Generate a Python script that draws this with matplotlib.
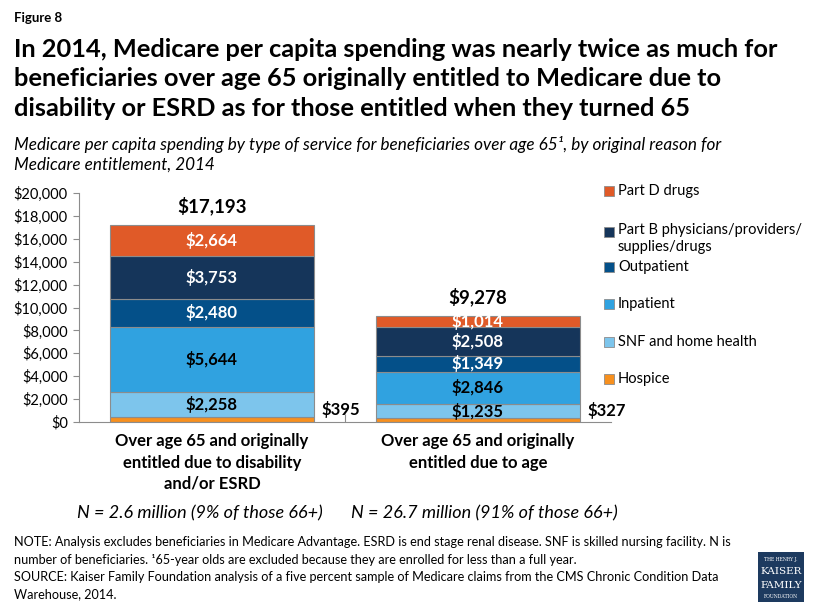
import matplotlib.pyplot as plt
from matplotlib.patches import Rectangle

plt.rcParams['font.family'] = ['Lato', 'DejaVu Sans']

categories = ["Over age 65 and originally\nentitled due to disability\nand/or ESRD",
              "Over age 65 and originally\nentitled due to age"]
series = ["Hospice", "SNF and home health", "Inpatient", "Outpatient",
          "Part B physicians/providers/\nsupplies/drugs", "Part D drugs"]
values = {
    "Hospice": [395, 327],
    "SNF and home health": [2258, 1235],
    "Inpatient": [5644, 2846],
    "Outpatient": [2480, 1349],
    "Part B physicians/providers/\nsupplies/drugs": [3753, 2508],
    "Part D drugs": [2664, 1014],
}
totals = [17193, 9278]
n_labels = ["N = 2.6 million (9% of those 66+)", "N = 26.7 million (91% of those 66+)"]
colors = ["#F7901E", "#7DC5EC", "#30A2E0", "#045089", "#15355A", "#E05A28"]
text_colors = [None, "black", "black", "white", "white", "white"]

fig = plt.figure(figsize=(8.14, 6.08), dpi=100)
ax = fig.add_axes([79/814, 1-422/608, 532/814, 229/608])

x = [0, 1]
bottom = [0, 0]
for s, c, tc in zip(series, colors, text_colors):
    v = values[s]
    ax.bar(x, v, width=0.77, bottom=bottom, color=c, edgecolor="#8c8c8c", linewidth=0.8, label=s)
    for i in range(2):
        if tc is not None:
            ax.text(x[i], bottom[i] + v[i]/2, "${:,}".format(v[i]), ha="center", va="center",
                    color=tc, fontsize=12, fontweight="bold")
    bottom = [bottom[i] + v[i] for i in range(2)]

# hospice labels outside the bars, totals on top
for i in range(2):
    ax.text(x[i] + 0.41, values["Hospice"][i] + 700, "${:,}".format(values["Hospice"][i]),
            ha="left", va="center", fontsize=12, fontweight="bold")
    ax.text(x[i], totals[i] + 1650, "${:,}".format(totals[i]), ha="center", va="center",
            fontsize=13.5, fontweight="bold")

ax.set_xlim(-0.5, 1.5)
ax.set_ylim(0, 20000)
ax.set_yticks(range(0, 20001, 2000))
ax.set_yticklabels(["${:,}".format(t) for t in range(0, 20001, 2000)], fontsize=10.5)
ax.set_xticks([0.5])
ax.set_xticklabels([])
ax.tick_params(axis="x", length=6, color="#8c8c8c", direction="in")
ax.tick_params(axis="y", length=4, color="#8c8c8c", direction="out", pad=4)
for sp in ["top", "right"]:
    ax.spines[sp].set_visible(False)
for sp in ["left", "bottom"]:
    ax.spines[sp].set_color("#8c8c8c")

for i, cat in enumerate(categories):
    ax.text(x[i], -1000, cat, ha="center", va="top", fontsize=12, fontweight="bold",
            linespacing=1.4)
fig.text(200/814, 1-513/608, n_labels[0], ha="center", va="center", fontsize=13, style="italic")
fig.text(484/814, 1-513/608, n_labels[1], ha="center", va="center", fontsize=13, style="italic")

# legend
leg_y = [379, 342, 304, 267, 232, 191]
for s, c, yy in zip(series, colors, leg_y):
    fig.patches.append(Rectangle((604/814, 1-(yy+5)/608), 10/814, 10/608, transform=fig.transFigure,
                                 facecolor=c, edgecolor="#8c8c8c", linewidth=0.6))
    if "\n" in s:
        fig.text(618/814, 1-(yy-9)/608, s, ha="left", va="top", fontsize=10.5, linespacing=1.25)
    else:
        fig.text(618/814, 1-yy/608, s, ha="left", va="center", fontsize=10.5)

# titles
fig.text(14/814, 1-18/608, "Figure 8", fontsize=9.5, fontweight="bold", va="center")
fig.text(14/814, 1-38/608,
         "In 2014, Medicare per capita spending was nearly twice as much for\n"
         "beneficiaries over age 65 originally entitled to Medicare due to\n"
         "disability or ESRD as for those entitled when they turned 65",
         fontsize=18.3, fontweight="bold", va="top", linespacing=1.33)
fig.text(14/814, 1-136/608,
         "Medicare per capita spending by type of service for beneficiaries over age 65\u00b9, by original reason for\n"
         "Medicare entitlement, 2014",
         fontsize=12.3, style="italic", va="top", linespacing=1.25)

fig.text(14/814, 1-536/608,
         "NOTE: Analysis excludes beneficiaries in Medicare Advantage. ESRD is end stage renal disease. SNF is skilled nursing facility. N is\n"
         "number of beneficiaries. \u00b965-year olds are excluded because they are enrolled for less than a full year.\n"
         "SOURCE: Kaiser Family Foundation analysis of a five percent sample of Medicare claims from the CMS Chronic Condition Data\n"
         "Warehouse, 2014.",
         fontsize=9.1, va="top", linespacing=1.55)

# logo
fig.patches.append(Rectangle((758/814, 1-602/608), 46/814, 50/608, transform=fig.transFigure,
                             facecolor="#1d3a5f", edgecolor="none"))
fig.text(781/814, 1-560/608, "THE HENRY J.", color="white", fontsize=3.3, ha="center", va="center", family="DejaVu Serif")
fig.text(781/814, 1-572/608, "KAISER", color="white", fontsize=7.5, ha="center", va="center", family="DejaVu Serif")
fig.text(781/814, 1-585/608, "FAMILY", color="white", fontsize=7.5, ha="center", va="center", family="DejaVu Serif")
fig.text(781/814, 1-596/608, "FOUNDATION", color="white", fontsize=3.3, ha="center", va="center", family="DejaVu Serif")

fig.savefig("out.png", dpi=100)
